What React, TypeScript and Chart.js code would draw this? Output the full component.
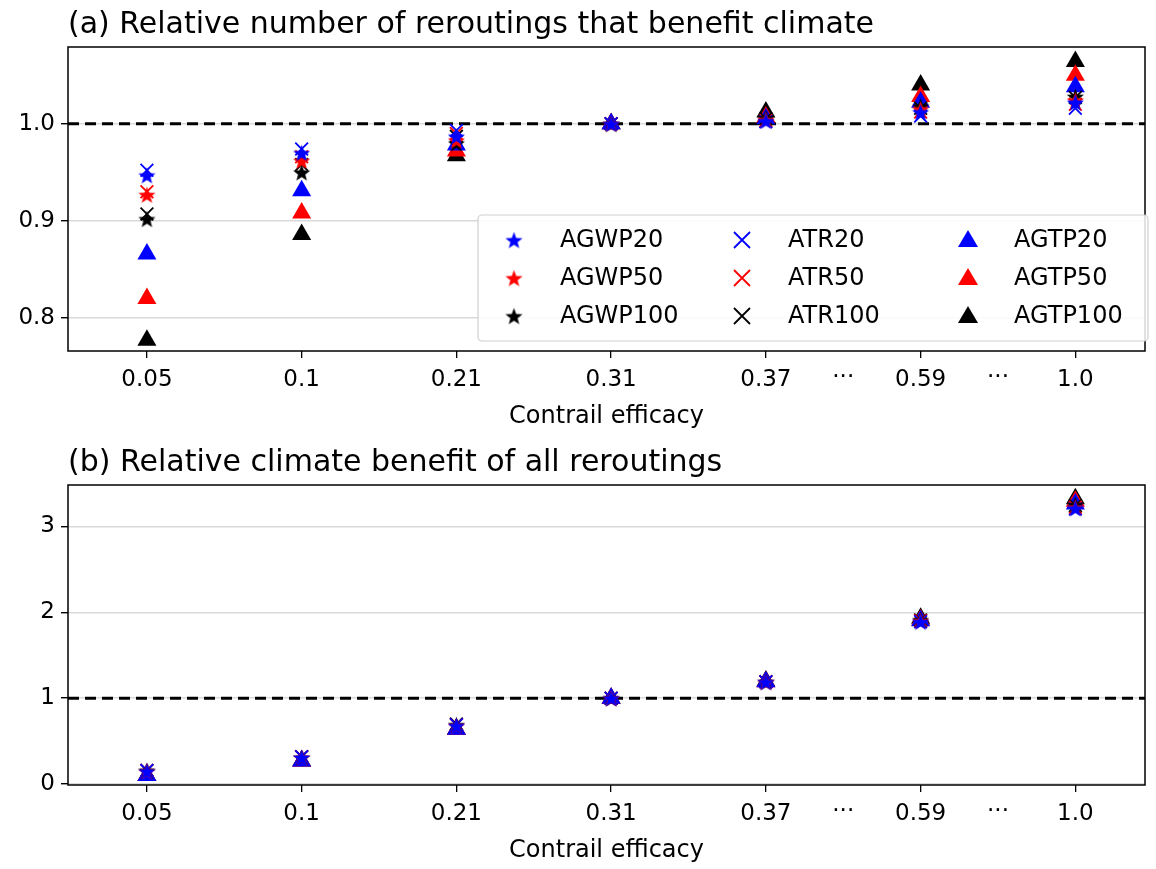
import React, { useEffect, useRef } from "react";
import { Chart, registerables } from "chart.js";
Chart.register(...registerables);

const efficacyLabels = ["0.05", "0.1", "0.21", "0.31", "0.37", "0.59", "1.0"];
const gapLabelPositions = [4.5, 5.5];

const topSeries: Record<string, number[]> = {
  AGWP20: [0.947, 0.970, 0.987, 1.0, 1.003, 1.012, 1.022],
  AGWP50: [0.927, 0.962, 0.983, 1.0, 1.004, 1.015, 1.024],
  AGWP100: [0.902, 0.950, 0.980, 1.0, 1.006, 1.018, 1.028],
  ATR20: [0.952, 0.974, 0.993, 1.0, 1.002, 1.008, 1.016],
  ATR50: [0.930, 0.966, 0.990, 1.0, 1.003, 1.012, 1.020],
  ATR100: [0.907, 0.958, 0.987, 1.0, 1.005, 1.016, 1.027],
  AGTP20: [0.866, 0.931, 0.978, 1.0, 1.005, 1.022, 1.038],
  AGTP50: [0.820, 0.908, 0.972, 1.0, 1.007, 1.028, 1.050],
  AGTP100: [0.777, 0.886, 0.967, 1.0, 1.012, 1.040, 1.064],
};
const bottomSeries: Record<string, number[]> = {
  AGWP20: [0.15, 0.31, 0.68, 1.0, 1.19, 1.89, 3.21],
  AGWP50: [0.15, 0.31, 0.68, 1.0, 1.19, 1.90, 3.22],
  AGWP100: [0.16, 0.31, 0.69, 1.0, 1.19, 1.91, 3.25],
  ATR20: [0.16, 0.32, 0.69, 1.0, 1.19, 1.89, 3.20],
  ATR50: [0.16, 0.32, 0.69, 1.0, 1.19, 1.90, 3.22],
  ATR100: [0.16, 0.32, 0.70, 1.0, 1.19, 1.91, 3.24],
  AGTP20: [0.10, 0.27, 0.64, 1.0, 1.19, 1.90, 3.26],
  AGTP50: [0.10, 0.27, 0.64, 1.0, 1.19, 1.91, 3.29],
  AGTP100: [0.10, 0.27, 0.64, 1.0, 1.20, 1.93, 3.32],
};
const legendColumns = [
  ["AGWP20", "AGWP50", "AGWP100"],
  ["ATR20", "ATR50", "ATR100"],
  ["AGTP20", "AGTP50", "AGTP100"],
];

const colorOf = (n: string) => (n.endsWith("100") ? "#000000" : n.endsWith("50") ? "#ff0000" : "#0000ff");
const FONT = "'DejaVu Sans', sans-serif";

const starCache: Record<string, HTMLCanvasElement> = {};
function starImg(color: string, s = 19) {
  if (starCache[color]) return starCache[color];
  const c = document.createElement("canvas");
  c.width = s; c.height = s;
  const g = c.getContext("2d")!;
  g.fillStyle = color;
  g.beginPath();
  const R = s / 2 - 0.5, r = R * 0.42, cx = s / 2, cy = s / 2 + 1;
  for (let i = 0; i < 10; i++) {
    const a = -Math.PI / 2 + (i * Math.PI) / 5;
    const rr = i % 2 ? r : R;
    g.lineTo(cx + rr * Math.cos(a), cy + rr * Math.sin(a));
  }
  g.closePath(); g.fill();
  starCache[color] = c;
  return c;
}

function styleOf(n: string) {
  const col = colorOf(n);
  if (n.startsWith("AGWP")) return { pointStyle: starImg(col) as any, pointRadius: 9 };
  if (n.startsWith("ATR")) return { pointStyle: "crossRot", pointRadius: 9, pointBorderWidth: 1.8 };
  return { pointStyle: "triangle", pointRadius: 11 };
}

function drawMarker(g: CanvasRenderingContext2D, n: string, x: number, y: number) {
  const col = colorOf(n);
  g.save();
  g.fillStyle = col; g.strokeStyle = col;
  if (n.startsWith("AGWP")) {
    g.drawImage(starImg(col), x - 9.5, y - 9.5);
  } else if (n.startsWith("ATR")) {
    g.lineWidth = 1.8;
    g.beginPath();
    g.moveTo(x - 8, y - 8); g.lineTo(x + 8, y + 8);
    g.moveTo(x - 8, y + 8); g.lineTo(x + 8, y - 8);
    g.stroke();
  } else {
    g.beginPath();
    g.moveTo(x, y - 10); g.lineTo(x + 10, y + 7); g.lineTo(x - 10, y + 7);
    g.closePath(); g.fill();
  }
  g.restore();
}

function makeConfig(series: Record<string, number[]>, title: string, yMin: number, yMax: number, yStep: number, yFirst: number, legend: boolean, topPad: number): any {
  const names = [...legendColumns[0], ...legendColumns[1], ...legendColumns[2]];
  const datasets = names.map((n) => ({
    label: n,
    data: series[n].map((v, i) => ({ x: i, y: v })),
    showLine: false,
    backgroundColor: colorOf(n),
    borderColor: colorOf(n),
    pointBorderWidth: 0,
    ...styleOf(n),
  }));
  const plugin = {
    id: "deco",
    beforeDatasetsDraw(chart: any) {
      const g = chart.ctx as CanvasRenderingContext2D;
      const a = chart.chartArea;
      const y1 = chart.scales.y.getPixelForValue(1);
      g.save();
      g.strokeStyle = "#000"; g.lineWidth = 3; g.setLineDash([11, 6]);
      g.beginPath(); g.moveTo(a.left, y1); g.lineTo(a.right, y1); g.stroke();
      g.restore();
    },
    afterDraw(chart: any) {
      const g = chart.ctx as CanvasRenderingContext2D;
      const a = chart.chartArea;
      g.save();
      g.strokeStyle = "#000"; g.lineWidth = 1.5;
      g.strokeRect(a.left, a.top, a.right - a.left, a.bottom - a.top);
      g.fillStyle = "#000";
      g.font = `30px ${FONT}`;
      g.textBaseline = "alphabetic";
      g.fillText(title, a.left, a.top - 14);
      g.font = `23px ${FONT}`;
      g.textAlign = "center"; g.textBaseline = "top";
      for (const p of gapLabelPositions) g.fillText("···", chart.scales.x.getPixelForValue(p), a.bottom + 16);
      if (legend) {
        const bx = 478, by = 215, bw = 670, bh = 126;
        g.fillStyle = "rgba(255,255,255,0.85)";
        g.strokeStyle = "#d0d0d0"; g.lineWidth = 1.2;
        g.beginPath(); (g as any).roundRect(bx, by, bw, bh, 4); g.fill(); g.stroke();
        g.font = `24px ${FONT}`; g.textAlign = "left"; g.textBaseline = "middle"; g.fillStyle = "#000";
        const colX = [bx + 36, bx + 264, bx + 490];
        legendColumns.forEach((col, ci) =>
          col.forEach((n, ri) => {
            const y = by + 25 + ri * 38;
            drawMarker(g, n, colX[ci], y);
            g.fillStyle = "#000";
            g.fillText(n, colX[ci] + 46, y + 1);
          })
        );
      }
      g.restore();
    },
  };
  return {
    type: "scatter",
    data: { datasets },
    plugins: [plugin],
    options: {
      animation: false,
      responsive: false,
      layout: { padding: { top: topPad, right: 6, left: 0, bottom: 0 } },
      plugins: { legend: { display: false }, tooltip: { enabled: false } },
      scales: {
        x: {
          type: "linear", min: -0.51, max: 6.45,
          afterBuildTicks: (ax: any) => { ax.ticks = efficacyLabels.map((_, i) => ({ value: i })); },
          ticks: { callback: (v: number) => efficacyLabels[v] ?? "", color: "#000", font: { size: 23, family: FONT }, padding: 8 },
          grid: { drawOnChartArea: false, tickLength: 7, tickColor: "#000", lineWidth: 1.3 },
          border: { display: false },
          title: { display: true, text: "Contrail efficacy", color: "#000", font: { size: 24, family: FONT }, padding: { top: 0 } },
          afterFit: (ax: any) => { ax.height = 84; },
        },
        y: {
          min: yMin, max: yMax,
          afterBuildTicks: (ax: any) => {
            const t = [];
            for (let v = yFirst; v <= yMax + 1e-9; v += yStep) t.push({ value: Math.round(v * 100) / 100 });
            ax.ticks = t;
          },
          ticks: { callback: (v: number) => (yStep < 1 ? v.toFixed(1) : String(v)), color: "#000", font: { size: 23, family: FONT }, padding: 6 },
          grid: { color: "#d9d9d9", lineWidth: 1.4, tickLength: 7, tickColor: "#000" },
          border: { display: false },
          afterFit: (ax: any) => { ax.width = 68; },
        },
      },
    },
  };
}

export default function App() {
  const r1 = useRef<HTMLCanvasElement>(null);
  const r2 = useRef<HTMLCanvasElement>(null);
  useEffect(() => {
    document.body.style.margin = "0";
    const c1 = new Chart(r1.current!, makeConfig(topSeries, "(a) Relative number of reroutings that benefit climate", 0.766, 1.079, 0.1, 0.8, true, 47));
    const c2 = new Chart(r2.current!, makeConfig(bottomSeries, "(b) Relative climate benefit of all reroutings", -0.01, 3.48, 1, 0, false, 50));
    return () => { c1.destroy(); c2.destroy(); };
  }, []);
  return (
    <div style={{ width: 1156, height: 869, background: "#fff" }}>
      <canvas ref={r1} width={1156} height={435} style={{ display: "block" }} />
      <canvas ref={r2} width={1156} height={434} style={{ display: "block" }} />
    </div>
  );
}
